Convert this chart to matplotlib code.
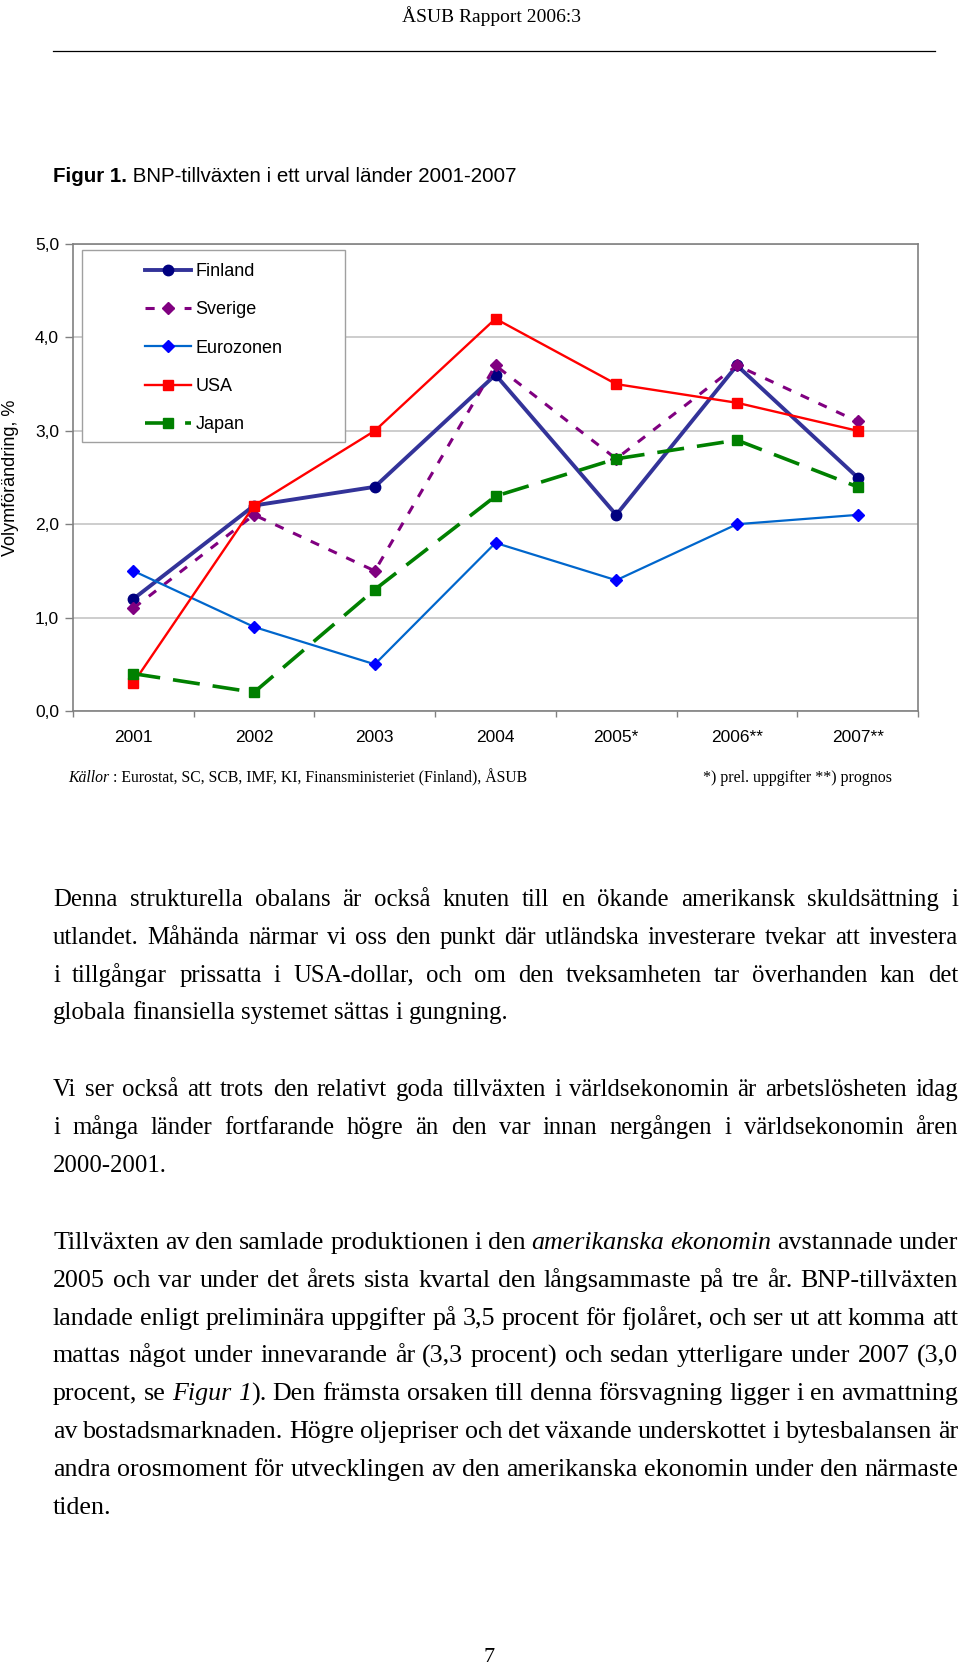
import matplotlib
matplotlib.use("Agg")
import matplotlib.pyplot as plt
from matplotlib.patches import Rectangle

# sidans storlek i pixlar
W, H = 960, 1666

# data
years = ["2001", "2002", "2003", "2004", "2005*", "2006**", "2007**"]
finland = [1.2, 2.2, 2.4, 3.6, 2.1, 3.7, 2.5]
sverige = [1.1, 2.1, 1.5, 3.7, 2.7, 3.7, 3.1]
eurozonen = [1.5, 0.9, 0.5, 1.8, 1.4, 2.0, 2.1]
usa = [0.3, 2.2, 3.0, 4.2, 3.5, 3.3, 3.0]
japan = [0.4, 0.2, 1.3, 2.3, 2.7, 2.9, 2.4]
y_ticks = [0, 1, 2, 3, 4, 5]
y_ticklabels = ["0,0", "1,0", "2,0", "3,0", "4,0", "5,0"]

header = "ÅSUB Rapport 2006:3"
title_bold = "Figur 1."
title_rest = " BNP-tillväxten i ett urval länder 2001-2007"
source_it = "Källor"
source_rest = " : Eurostat, SC, SCB, IMF, KI, Finansministeriet (Finland), ÅSUB"
note = "*) prel. uppgifter **) prognos"

# brödtext, * växlar kursiv
para1 = [
    "Denna strukturella obalans är också knuten till en ökande amerikansk skuldsättning i",
    "utlandet. Måhända närmar vi oss den punkt där utländska investerare tvekar att investera",
    "i tillgångar prissatta i USA-dollar, och om den tveksamheten tar överhanden kan det",
    "globala finansiella systemet sättas i gungning.",
]
para2 = [
    "Vi ser också att trots den relativt goda tillväxten i världsekonomin är arbetslösheten idag",
    "i många länder fortfarande högre än den var innan nergången i världsekonomin åren",
    "2000-2001.",
]
para3 = [
    "Tillväxten av den samlade produktionen i den *amerikanska ekonomin* avstannade under",
    "2005 och var under det årets sista kvartal den långsammaste på tre år. BNP-tillväxten",
    "landade enligt preliminära uppgifter på 3,5 procent för fjolåret, och ser ut att komma att",
    "mattas något under innevarande år (3,3 procent) och sedan ytterligare under 2007 (3,0",
    "procent, se *Figur 1*). Den främsta orsaken till denna försvagning ligger i en avmattning",
    "av bostadsmarknaden. Högre oljepriser och det växande underskottet i bytesbalansen är",
    "andra orosmoment för utvecklingen av den amerikanska ekonomin under den närmaste",
    "tiden.",
]

SANS = "Liberation Sans"
SERIF = "Liberation Serif"

fig = plt.figure(figsize=(W / 100, H / 100), dpi=100)
renderer = fig.canvas.get_renderer()


def fx(px):
    return px / W


def fy(py):
    return 1 - py / H


# sidhuvud
fig.text(fx(491), fy(22), header, family=SERIF, fontsize=14, ha="center", va="baseline")
fig.add_artist(plt.Line2D([fx(53), fx(935)], [fy(51), fy(51)], color="black", lw=0.9))

# figurrubrik
t = fig.text(fx(53), fy(182), title_bold, family=SANS, fontsize=14.8, weight="bold", va="baseline")
tw = t.get_window_extent(renderer).width
fig.text(fx(53 + tw), fy(182), title_rest, family=SANS, fontsize=14.8, va="baseline")

# diagrammet
ax = fig.add_axes([fx(73), fy(711), fx(918) - fx(73), fy(244) - fy(711)])
x = list(range(len(years)))

ax.plot(x, finland, color="#333399", lw=2.8, marker="o", ms=7.5,
        mfc="#000080", mec="#000080", label="Finland")
ax.plot(x, sverige, color="#800080", lw=2.2, ls=(0, (3, 3.4)), marker="D", ms=6,
        mfc="#800080", mec="#800080", label="Sverige")
ax.plot(x, eurozonen, color="#0066CC", lw=1.6, marker="D", ms=6.5,
        mfc="#0000FF", mec="#0000FF", label="Eurozonen")
ax.plot(x, usa, color="#FF0000", lw=1.7, marker="s", ms=7.5,
        mfc="#FF0000", mec="#FF0000", label="USA")
ax.plot(x, japan, color="#008000", lw=2.6, ls=(0, (7.5, 3.6)), marker="s", ms=7,
        mfc="#008000", mec="#008000", label="Japan")

ax.set_xlim(-0.5, len(years) - 0.5)
ax.set_ylim(0, 5)
ax.set_yticks(y_ticks)
ax.set_yticklabels(y_ticklabels)
ax.set_xticks([i - 0.5 for i in range(len(years) + 1)])
ax.set_xticklabels([])
ax.set_xticks(x, minor=True)
ax.set_xticklabels(years, minor=True)
ax.tick_params(axis="x", which="major", length=4, width=1, color="#808080", direction="out")
ax.tick_params(axis="x", which="minor", length=0, pad=14, labelsize=12.5)
ax.tick_params(axis="y", length=6, width=1, color="#808080", pad=4, labelsize=12.5)
for lab in ax.get_xticklabels(minor=True) + ax.get_yticklabels():
    lab.set_family(SANS)

ax.grid(axis="y", color="#c0c0c0", lw=1.1)
ax.set_axisbelow(True)
for sp in ax.spines.values():
    sp.set_color("#808080")
    sp.set_linewidth(1.2)

fig.text(fx(11), fy(478), "Volymförändring, %", family=SANS, fontsize=13,
         rotation=90, ha="center", va="center")

# förklaring
box = Rectangle((fx(82), fy(442)), fx(345) - fx(82), fy(250) - fy(442),
                transform=fig.transFigure, facecolor="white", edgecolor="#a0a0a0",
                lw=1, zorder=3, clip_on=False)
ax.add_patch(box)
leg = ax.legend(loc="upper left", bbox_to_anchor=(fx(145), fy(263)),
                bbox_transform=fig.transFigure, frameon=False, borderpad=0,
                borderaxespad=0, handlelength=2.55, handletextpad=0.25,
                labelspacing=1.18, prop={"family": SANS, "size": 13})
leg.set_zorder(4)

# källa och not
t = fig.text(fx(68), fy(782), source_it, family=SERIF, style="italic", fontsize=11.3, va="baseline")
tw = t.get_window_extent(renderer).width
fig.text(fx(68 + tw), fy(782), source_rest, family=SERIF, fontsize=11.3, va="baseline")
fig.text(fx(703), fy(782), note, family=SERIF, fontsize=11.5, va="baseline")


def words_of(line):
    words = []
    italic = False
    for raw in line.split(" "):
        segs = []
        for i, part in enumerate(raw.split("*")):
            if i > 0:
                italic = not italic
            if part:
                segs.append((part, italic))
        words.append(segs)
    return words


def body_line(line, y, size, justify, x0=53, x1=958):
    words = words_of(line)
    placed = []
    widths = []
    for segs in words:
        parts = []
        w = 0
        for txt, it in segs:
            t = fig.text(0, fy(y), txt, family=SERIF, fontsize=size,
                         style="italic" if it else "normal", va="baseline")
            parts.append((t, w))
            w += t.get_window_extent(renderer).width
        placed.append(parts)
        widths.append(w)
    space = size * 100 / 72 * 0.25
    if justify and len(words) > 1:
        gap = (x1 - x0 - sum(widths)) / (len(words) - 1)
    else:
        gap = space
    xpos = x0
    for parts, w in zip(placed, widths):
        for t, off in parts:
            t.set_x(fx(xpos + off))
        xpos += w + gap


def paragraph(lines, y0, size, step=37.8):
    for i, line in enumerate(lines):
        body_line(line, y0 + i * step, size, i < len(lines) - 1)


paragraph(para1, 906, 17.8)
paragraph(para2, 1096, 17.8)
paragraph(para3, 1249, 18.7)

# sidnummer
fig.text(fx(489), fy(1662), "7", family=SERIF, fontsize=16, ha="center", va="baseline")

fig.savefig("out.png", dpi=100)
